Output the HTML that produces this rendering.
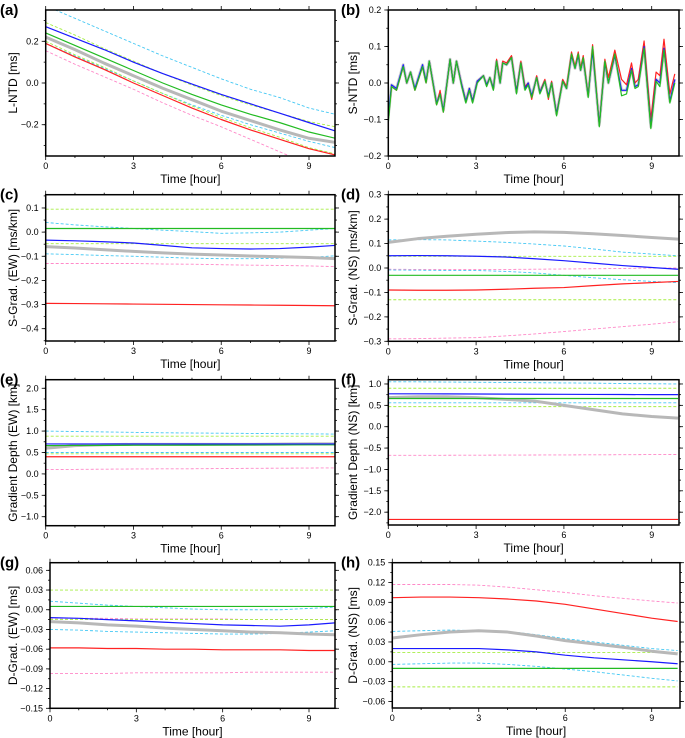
<!DOCTYPE html>
<html><head><meta charset="utf-8">
<style>
html,body{margin:0;padding:0;background:#fff;}
svg{display:block;font-family:"Liberation Sans",sans-serif;}
</style></head>
<body>
<svg id="fig" width="685" height="738" viewBox="0 0 685 738"></svg>
<script>
// ---- shared time axis ----
const T = [0,1,2,3,4,5,6,7,8,9,9.9];
// ---- panel (a) L-NTD ----
const a_blue  = [0.27,0.215,0.16,0.10,0.045,-0.005,-0.055,-0.10,-0.145,-0.19,-0.23];
const a_green = [0.24,0.18,0.12,0.06,0.0,-0.055,-0.105,-0.15,-0.19,-0.235,-0.265];
const a_gray  = [0.22,0.16,0.095,0.035,-0.025,-0.08,-0.135,-0.18,-0.225,-0.265,-0.285];
const a_red   = [0.19,0.125,0.065,0.0,-0.06,-0.12,-0.175,-0.225,-0.27,-0.315,-0.345];
const a_cyan1 = [0.37,0.31,0.25,0.19,0.13,0.075,0.02,-0.03,-0.07,-0.12,-0.15];
const a_cyan2 = [0.19,0.13,0.07,0.01,-0.05,-0.105,-0.155,-0.2,-0.24,-0.28,-0.31];
const a_lg1   = [0.29,0.23,0.165,0.105,0.045,-0.01,-0.06,-0.105,-0.145,-0.185,-0.21];
const a_lg2   = [0.2,0.135,0.075,0.01,-0.05,-0.11,-0.165,-0.215,-0.26,-0.31,-0.34];
const a_pink  = [0.155,0.09,0.03,-0.03,-0.095,-0.155,-0.21,-0.27,-0.33,-0.39,-0.43];
// ---- panel (b) S-NTD ----
const b_time = [0.00,0.11,0.28,0.51,0.63,0.76,0.91,1.17,1.29,1.40,1.65,1.77,1.88,2.11,2.22,2.33,2.51,2.65,2.77,2.88,3.04,3.25,3.36,3.47,3.59,3.70,3.82,3.91,4.04,4.21,4.38,4.53,4.67,4.78,4.90,5.07,5.18,5.35,5.47,5.58,5.75,5.96,6.09,6.26,6.38,6.49,6.57,6.66,6.83,6.98,7.21,7.40,7.52,7.74,7.97,8.14,8.31,8.43,8.54,8.74,8.97,9.15,9.28,9.42,9.62,9.79];
const b_green = [-0.11,-0.01,-0.02,0.045,0.0,0.03,-0.02,0.045,0.0,0.06,-0.06,-0.03,-0.08,0.065,0.0,0.06,-0.01,-0.055,-0.02,-0.055,0.0,0.02,-0.01,0.015,-0.02,0.06,0.0,0.055,0.05,0.07,-0.03,0.055,-0.02,-0.005,-0.04,0.015,-0.03,0.005,-0.04,0.0,-0.09,0.005,-0.015,0.08,0.04,0.08,0.035,0.07,-0.04,0.1,-0.12,0.06,0.0,0.08,-0.035,-0.03,0.035,-0.015,-0.01,0.095,-0.125,0.005,-0.01,0.09,-0.055,0.0];
const b_blue  = [-0.09,-0.005,-0.015,0.05,0.0,0.03,-0.015,0.05,0.005,0.06,-0.055,-0.03,-0.075,0.065,0.0,0.06,-0.005,-0.05,-0.015,-0.05,0.005,0.02,-0.005,0.015,-0.015,0.06,0.0,0.055,0.05,0.07,-0.025,0.055,-0.015,0.0,-0.035,0.015,-0.025,0.005,-0.035,0.0,-0.085,0.005,-0.015,0.075,0.04,0.075,0.035,0.065,-0.035,0.09,-0.115,0.055,0.0,0.075,-0.02,-0.02,0.04,-0.01,-0.005,0.1,-0.12,0.01,0.0,0.095,-0.05,0.01];
const b_red   = [-0.1,-0.01,-0.02,0.045,0.0,0.03,-0.02,0.045,0.0,0.06,-0.06,-0.02,-0.08,0.065,0.0,0.06,-0.005,-0.05,-0.015,-0.05,0.005,0.02,-0.005,0.015,-0.015,0.065,0.005,0.06,0.055,0.075,-0.025,0.06,-0.01,0.0,-0.045,0.02,-0.025,0.01,-0.045,0.005,-0.085,0.01,-0.01,0.085,0.045,0.085,0.04,0.075,-0.035,0.105,-0.115,0.065,0.015,0.09,0.01,-0.005,0.055,0.0,0.01,0.115,-0.1,0.03,0.02,0.12,-0.03,0.025];
const b_gray  = b_blue;
// ---- panel (c) S-Grad EW ----
const c_lg1   = [0.095,0.095,0.095,0.095,0.095,0.095,0.095,0.095,0.095,0.095,0.095];
const c_cyan1 = [0.04,0.03,0.022,0.015,0.008,0.002,-0.005,-0.003,0.0,0.008,0.015];
const c_green = [0.015,0.015,0.015,0.015,0.015,0.015,0.015,0.015,0.015,0.015,0.015];
const c_blue  = [-0.033,-0.036,-0.04,-0.045,-0.055,-0.065,-0.068,-0.07,-0.068,-0.062,-0.055];
const c_lg2   = [-0.048,-0.048,-0.048,-0.048,-0.048,-0.048,-0.048,-0.048,-0.048,-0.048,-0.048];
const c_gray  = [-0.06,-0.066,-0.073,-0.08,-0.086,-0.091,-0.095,-0.099,-0.102,-0.105,-0.11];
const c_cyan2 = [-0.09,-0.093,-0.097,-0.1,-0.104,-0.108,-0.11,-0.11,-0.108,-0.105,-0.098];
const c_pink  = [-0.13,-0.13,-0.13,-0.13,-0.132,-0.133,-0.135,-0.137,-0.138,-0.14,-0.143];
const c_red   = [-0.295,-0.296,-0.297,-0.298,-0.299,-0.3,-0.301,-0.302,-0.303,-0.304,-0.305];
// ---- panel (d) S-Grad NS ----
const d_gray  = [0.105,0.12,0.13,0.138,0.145,0.148,0.146,0.14,0.133,0.125,0.118];
const d_cyan1 = [0.115,0.116,0.115,0.11,0.105,0.098,0.09,0.078,0.065,0.057,0.05];
const d_blue  = [0.05,0.051,0.05,0.048,0.045,0.038,0.03,0.02,0.01,0.002,-0.005];
const d_lg1   = [0.048,0.048,0.048,0.048,0.048,0.048,0.048,0.048,0.048,0.048,0.048];
const d_pink1 = [-0.005,-0.006,-0.006,-0.006,-0.006,-0.005,-0.004,-0.003,-0.002,0.0,0.0];
const d_cyan2 = [-0.008,-0.009,-0.01,-0.01,-0.014,-0.02,-0.03,-0.04,-0.048,-0.055,-0.06];
const d_green = [-0.03,-0.03,-0.03,-0.03,-0.03,-0.03,-0.03,-0.03,-0.03,-0.03,-0.03];
const d_red   = [-0.09,-0.091,-0.091,-0.09,-0.087,-0.083,-0.08,-0.072,-0.065,-0.06,-0.055];
const d_lg2   = [-0.13,-0.13,-0.13,-0.13,-0.13,-0.13,-0.13,-0.13,-0.13,-0.13,-0.13];
const d_pink2 = [-0.29,-0.289,-0.287,-0.285,-0.278,-0.27,-0.26,-0.25,-0.24,-0.23,-0.22];
// ---- panel (e) Gradient Depth EW ----
const e_cyan1 = [1.0,0.99,0.98,0.97,0.96,0.955,0.95,0.945,0.94,0.935,0.93];
const e_lg1   = [0.88,0.88,0.88,0.88,0.88,0.88,0.88,0.88,0.88,0.88,0.88];
const e_blue  = [0.7,0.7,0.7,0.7,0.7,0.7,0.7,0.7,0.7,0.7,0.7];
const e_gray  = [0.6,0.66,0.68,0.69,0.69,0.69,0.69,0.69,0.695,0.7,0.7];
const e_green = [0.66,0.665,0.667,0.67,0.67,0.672,0.674,0.676,0.678,0.68,0.68];
const e_cyan2 = [0.5,0.5,0.5,0.5,0.5,0.5,0.5,0.5,0.5,0.5,0.5];
const e_lg2   = [0.47,0.47,0.47,0.47,0.47,0.47,0.47,0.47,0.47,0.47,0.47];
const e_red   = [0.4,0.4,0.4,0.4,0.4,0.4,0.4,0.4,0.4,0.4,0.4];
const e_pink  = [0.1,0.105,0.11,0.115,0.118,0.12,0.125,0.13,0.133,0.137,0.14];
// ---- panel (f) Gradient Depth NS ----
const f_cyan1 = [1.05,1.05,1.045,1.04,1.035,1.03,1.025,1.02,1.01,1.005,1.0];
const f_lg1   = [0.9,0.9,0.9,0.9,0.9,0.9,0.9,0.9,0.9,0.9,0.9];
const f_blue  = [0.77,0.77,0.768,0.765,0.763,0.76,0.758,0.755,0.753,0.75,0.75];
const f_gray  = [0.68,0.7,0.7,0.68,0.64,0.6,0.5,0.4,0.3,0.24,0.2];
const f_green = [0.66,0.66,0.66,0.66,0.66,0.66,0.66,0.66,0.66,0.66,0.66];
const f_cyan2 = [0.56,0.56,0.56,0.56,0.56,0.56,0.56,0.56,0.56,0.56,0.56];
const f_lg2   = [0.47,0.47,0.47,0.47,0.47,0.47,0.47,0.47,0.47,0.47,0.47];
const f_pink  = [-0.67,-0.67,-0.668,-0.666,-0.664,-0.662,-0.66,-0.658,-0.655,-0.652,-0.65];
const f_red   = [-2.17,-2.17,-2.17,-2.17,-2.17,-2.17,-2.17,-2.17,-2.17,-2.17,-2.17];
// ---- panel (g) D-Grad EW ----
const g_lg1   = [0.03,0.03,0.03,0.03,0.03,0.03,0.03,0.03,0.03,0.03,0.03];
const g_cyan1 = [0.013,0.01,0.007,0.005,0.003,0.001,0.0,0.0,0.0,0.002,0.004];
const g_green = [0.005,0.005,0.005,0.005,0.005,0.005,0.005,0.005,0.005,0.005,0.005];
const g_blue  = [-0.012,-0.013,-0.015,-0.017,-0.019,-0.021,-0.023,-0.024,-0.025,-0.023,-0.02];
const g_pink1 = [-0.013,-0.013,-0.013,-0.014,-0.014,-0.014,-0.014,-0.015,-0.015,-0.015,-0.015];
const g_lg2   = [-0.015,-0.015,-0.015,-0.015,-0.015,-0.015,-0.015,-0.015,-0.015,-0.015,-0.015];
const g_gray  = [-0.018,-0.02,-0.023,-0.025,-0.028,-0.03,-0.032,-0.034,-0.035,-0.037,-0.038];
const g_cyan2 = [-0.03,-0.031,-0.033,-0.034,-0.035,-0.036,-0.037,-0.037,-0.036,-0.034,-0.032];
const g_red   = [-0.058,-0.058,-0.059,-0.059,-0.06,-0.06,-0.061,-0.061,-0.061,-0.062,-0.062];
const g_pink2 = [-0.097,-0.097,-0.097,-0.096,-0.096,-0.096,-0.096,-0.095,-0.095,-0.095,-0.095];
// ---- panel (h) D-Grad NS ----
const h_pink  = [0.117,0.117,0.117,0.116,0.113,0.109,0.105,0.1,0.096,0.092,0.089];
const h_red   = [0.097,0.098,0.098,0.097,0.095,0.092,0.087,0.08,0.073,0.066,0.061];
const h_cyan1 = [0.046,0.047,0.048,0.047,0.046,0.041,0.035,0.03,0.025,0.02,0.017];
const h_gray  = [0.036,0.041,0.045,0.047,0.045,0.039,0.032,0.027,0.022,0.016,0.012];
const h_blue  = [0.02,0.02,0.02,0.02,0.018,0.015,0.01,0.006,0.003,0.0,-0.003];
const h_lg1   = [0.014,0.014,0.014,0.014,0.014,0.014,0.014,0.014,0.014,0.014,0.014];
const h_cyan2 = [-0.004,-0.003,-0.002,-0.002,-0.004,-0.007,-0.011,-0.015,-0.02,-0.025,-0.029];
const h_green = [-0.01,-0.01,-0.01,-0.01,-0.01,-0.01,-0.01,-0.01,-0.01,-0.01,-0.01];
const h_lg2   = [-0.038,-0.038,-0.038,-0.038,-0.038,-0.038,-0.038,-0.038,-0.038,-0.038,-0.038];
// ---- tick labels ----
const xTicks = [0,3,6,9];
const a_ticks = [-0.2,0.0,0.2];
const b_ticks = [-0.2,-0.1,0.0,0.1,0.2];
const c_ticks = [-0.4,-0.3,-0.2,-0.1,0.0,0.1];
const d_ticks = [-0.3,-0.2,-0.1,0.0,0.1,0.2,0.3];
const e_ticks = [-1.0,-0.5,0.0,0.5,1.0,1.5,2.0];
const f_ticks = [-2.0,-1.5,-1.0,-0.5,0.0,0.5,1.0];
const g_ticks = [-0.15,-0.12,-0.09,-0.06,-0.03,0.00,0.03,0.06];
const h_ticks = [-0.06,-0.03,0.00,0.03,0.06,0.09,0.12,0.15];

const NS = 'http://www.w3.org/2000/svg';
const svg = document.getElementById('fig');
function mk(tag, attrs, parent){
  const e = document.createElementNS(NS, tag);
  for (const k in attrs) e.setAttribute(k, attrs[k]);
  (parent||svg).appendChild(e);
  return e;
}
const COL = {blue:'#1a1aff', green:'#22bb22', red:'#ff2222', gray:'#b8b8b8', cyan:'#44c8f4', lg:'#a6ee44', pink:'#ff88c8'};

const panels = [
 {id:'a', x0:45.7, x1:335, y0:10, y1:156, ymin:-0.35, ymax:0.35, ticks:a_ticks, minor:0.1, dec:1, ylab:'L-NTD [ms]', lx:13, time:T,
  series:[['cyan',a_cyan1,1],['cyan',a_cyan2,1],['lg',a_lg1,1],['lg',a_lg2,1],['pink',a_pink,1],['gray',a_gray,0],['green',a_green,0],['blue',a_blue,0],['red',a_red,0]]},
 {id:'b', x0:388.3, x1:679, y0:10, y1:156, ymin:-0.2, ymax:0.2, ticks:b_ticks, minor:0.05, dec:1, ylab:'S-NTD [ms]', lx:353, time:b_time,
  series:[['gray',b_gray,0],['red',b_red,0],['blue',b_blue,0],['green',b_green,0]]},
 {id:'c', x0:45.7, x1:335, y0:194.7, y1:341, ymin:-0.451, ymax:0.155, ticks:c_ticks, minor:0.05, dec:1, ylab:'S-Grad. (EW) [ms/km]', lx:13, time:T,
  series:[['lg',c_lg1,1],['cyan',c_cyan1,1],['lg',c_lg2,1],['cyan',c_cyan2,1],['pink',c_pink,1],['gray',c_gray,0],['green',c_green,0],['blue',c_blue,0],['red',c_red,0]]},
 {id:'d', x0:388.3, x1:679, y0:194.7, y1:341.3, ymin:-0.3, ymax:0.3, ticks:d_ticks, minor:0.05, dec:1, ylab:'S-Grad. (NS) [ms/km]', lx:353, time:T,
  series:[['cyan',d_cyan1,1],['lg',d_lg1,1],['pink',d_pink1,1],['cyan',d_cyan2,1],['lg',d_lg2,1],['pink',d_pink2,1],['gray',d_gray,0],['green',d_green,0],['blue',d_blue,0],['red',d_red,0]]},
 {id:'e', x0:45.7, x1:335, y0:379.7, y1:525.7, ymin:-1.21, ymax:2.2, ticks:e_ticks, minor:0.25, dec:1, ylab:'Gradient Depth (EW) [km]', lx:13, time:T,
  series:[['cyan',e_cyan1,1],['lg',e_lg1,1],['cyan',e_cyan2,1],['lg',e_lg2,1],['pink',e_pink,1],['gray',e_gray,0],['red',e_red,0],['green',e_green,0],['blue',e_blue,0]]},
 {id:'f', x0:388.3, x1:679, y0:379.7, y1:525, ymin:-2.3, ymax:1.1, ticks:f_ticks, minor:0.25, dec:1, ylab:'Gradient Depth (NS) [km]', lx:353, time:T,
  series:[['cyan',f_cyan1,1],['lg',f_lg1,1],['cyan',f_cyan2,1],['lg',f_lg2,1],['pink',f_pink,1],['gray',f_gray,0],['green',f_green,0],['blue',f_blue,0],['red',f_red,0]]},
 {id:'g', x0:50, x1:335, y0:562.7, y1:708.3, ymin:-0.15, ymax:0.0716, ticks:g_ticks, minor:0.015, dec:2, ylab:'D-Grad. (EW) [ms]', lx:13, time:T,
  series:[['lg',g_lg1,1],['cyan',g_cyan1,1],['pink',g_pink1,1],['lg',g_lg2,1],['cyan',g_cyan2,1],['pink',g_pink2,1],['gray',g_gray,0],['green',g_green,0],['blue',g_blue,0],['red',g_red,0]]},
 {id:'h', x0:392.3, x1:680, y0:562.7, y1:708, ymin:-0.07, ymax:0.15, ticks:h_ticks, minor:0.015, dec:2, ylab:'D-Grad. (NS) [ms]', lx:353, time:T,
  series:[['pink',h_pink,1],['cyan',h_cyan1,1],['lg',h_lg1,1],['cyan',h_cyan2,1],['lg',h_lg2,1],['gray',h_gray,0],['green',h_green,0],['blue',h_blue,0],['red',h_red,0]]}
];

function fmt(v,dec){ const s = Math.abs(v).toFixed(dec); return (v < -1e-9 ? '\u2212' : '') + s; }

panels.forEach(p=>{
  const g = mk('g', {});
  
  
  const pxh = (p.x0 < 100) ? (309 - p.x0)/9 : (651.7 - p.x0)/9;
  const X = t => p.x0 + t*pxh;
  const Y = v => p.y1 - (v - p.ymin)/(p.ymax - p.ymin)*(p.y1 - p.y0);
  const cp = mk('clipPath', {id:'clip-'+p.id}, g);
  mk('rect', {x:p.x0, y:p.y0, width:p.x1-p.x0, height:p.y1-p.y0}, cp);
  const sg = mk('g', {'clip-path':'url(#clip-'+p.id+')'}, g);
  p.series.forEach(([c, arr, dashed], i)=>{
    const pts = arr.map((v,k)=>X(p.time[k]).toFixed(2)+','+Y(v).toFixed(2)).join(' ');
    const line = mk('polyline', {points:pts, fill:'none', stroke: (p.id==='b' && c==='gray') ? '#d0d0d0' : COL[c],
      'stroke-width': c==='gray' ? 3 : (dashed?0.9:1.2),
      'stroke-dasharray': dashed ? '3,2' : 'none', 'stroke-linejoin':'round'}, sg);
    
    
  });
  const fr = mk('rect', {x:p.x0, y:p.y0, width:p.x1-p.x0, height:p.y1-p.y0, fill:'none', stroke:'#000', 'stroke-width':1.5}, g);
  
  
  for (let h=0; h<=9; h++){
    const len = (h%3===0)?4:2;
    mk('line', {x1:X(h), x2:X(h), y1:p.y1, y2:p.y1+len, stroke:'#000', 'stroke-width':0.8}, g);
    mk('line', {x1:X(h), x2:X(h), y1:p.y0, y2:p.y0-len, stroke:'#000', 'stroke-width':0.8}, g);
  }
  xTicks.forEach(h=>{
    const t = mk('text', {x:X(h), y:p.y1+13, 'font-size':9, 'text-anchor':'middle', fill:'#000'}, g);
    t.textContent = h;
    
    
  });
  const xl = mk('text', {x:(p.x0+p.x1)/2, y:p.y1+27, 'font-size':12, 'text-anchor':'middle', fill:'#000'}, g);
  xl.textContent = 'Time [hour]';
  
  
  const start = Math.ceil(p.ymin/p.minor - 1e-6);
  for (let k=start; k*p.minor <= p.ymax + 1e-9; k++){
    const y = Y(k*p.minor);
    mk('line', {x1:p.x0-2, x2:p.x0, y1:y, y2:y, stroke:'#000', 'stroke-width':0.8}, g);
    mk('line', {x1:p.x1, x2:p.x1+2, y1:y, y2:y, stroke:'#000', 'stroke-width':0.8}, g);
  }
  p.ticks.forEach(v=>{
    const y = Y(v);
    mk('line', {x1:p.x0-4, x2:p.x0, y1:y, y2:y, stroke:'#000', 'stroke-width':0.8}, g);
    mk('line', {x1:p.x1, x2:p.x1+4, y1:y, y2:y, stroke:'#000', 'stroke-width':0.8}, g);
    const t = mk('text', {x:p.x0-7, y:y+3, 'font-size':9, 'text-anchor':'end', fill:'#000'}, g);
    t.textContent = fmt(v, p.dec);
    
    
  });
  const yl = mk('text', {x:p.lx, y:(p.y0+p.y1)/2, 'font-size':12, 'text-anchor':'middle', fill:'#000',
    transform:'rotate(-90 '+p.lx+' '+((p.y0+p.y1)/2)+')', 'dominant-baseline':'central'}, g);
  yl.textContent = p.ylab;
  
  
  const pl = mk('text', {x:(p.x0<100?0:341), y:p.y0+5, 'font-size':15, 'font-weight':'bold', fill:'#000'}, g);
  pl.textContent = '(' + p.id + ')';
  
  
});
</script>
</body></html>
